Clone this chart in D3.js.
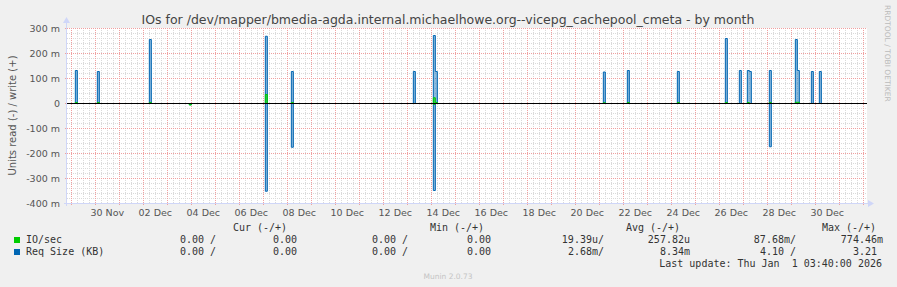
<!DOCTYPE html>
<html>
<head>
<meta charset="utf-8">
<script src="https://cdn.jsdelivr.net/npm/d3@7"></script>
<style>
  html, body { margin: 0; padding: 0; background: #f0f0f0; }
  svg { display: block; font-family: "DejaVu Sans", sans-serif; }
  .mono { font-family: "DejaVu Sans Mono", monospace; font-size: 10px; fill: #333; }
</style>
</head>
<body>
<div id="chart"></div>
<script>
// ---- data (values in milli-units, read side stored positive) ----
const graphTitle = 'IOs for /dev/mapper/bmedia-agda.internal.michaelhowe.org--vicepg_cachepool_cmeta - by month';
const lastUpdate = 'Last update: Thu Jan  1 03:40:00 2026';

const yTicks = [-400, -300, -200, -100, 0, 100, 200, 300];
const yTickLabels = ['-400 m', '-300 m', '-200 m', '-100 m', '0', '100 m', '200 m', '300 m'];

const dayLabelDates = ['2025-11-30', '2025-12-02', '2025-12-04', '2025-12-06', '2025-12-08', '2025-12-10',
  '2025-12-12', '2025-12-14', '2025-12-16', '2025-12-18', '2025-12-20', '2025-12-22', '2025-12-24',
  '2025-12-26', '2025-12-28', '2025-12-30'];
const dayLabels = ['30 Nov', '02 Dec', '04 Dec', '06 Dec', '08 Dec', '10 Dec', '12 Dec', '14 Dec',
  '16 Dec', '18 Dec', '20 Dec', '22 Dec', '24 Dec', '26 Dec', '28 Dec', '30 Dec'];

// 2-hour samples that are non-zero
const sampleTimes = ['2025-11-29 04:00', '2025-11-30 02:00', '2025-12-02 06:00', '2025-12-03 22:00',
  '2025-12-07 02:00', '2025-12-08 04:00', '2025-12-13 06:00', '2025-12-14 02:00', '2025-12-14 04:00',
  '2025-12-21 04:00', '2025-12-22 04:00', '2025-12-24 06:00', '2025-12-26 06:00', '2025-12-26 20:00',
  '2025-12-27 04:00', '2025-12-27 06:00', '2025-12-28 02:00', '2025-12-29 04:00', '2025-12-29 06:00',
  '2025-12-29 20:00', '2025-12-30 04:00'];
const reqWrite = [132, 128, 256, 0, 269, 128, 128, 272, 128, 126, 132, 128, 260, 132, 132, 128, 132, 256, 132, 128, 128];
const reqRead  = [0, 0, 0, 5, 351, 175, 0, 348, 0, 0, 0, 0, 0, 0, 0, 0, 173, 0, 0, 0, 0];
const ioWrite  = [4, 4, 4, 0, 36, 4, 0, 23, 4, 3, 4, 4, 4, 0, 4, 0, 4, 5, 5, 0, 0];
const ioRead   = [0, 0, 0, 6, 0, 0, 0, 3, 0, 0, 0, 0, 0, 0, 0, 0, 0, 0, 0, 0, 0];

const legendHeaders = ['Cur (-/+)', 'Min (-/+)', 'Avg (-/+)', 'Max (-/+)'];
const legendNames = ['IO/sec', 'Req Size (KB)'];
const legendValues = [
  ['  0.00 /', '  0.00 ', '  0.00 /', '  0.00 ', ' 19.39u/', '257.82u', ' 87.68m/', '774.46m'],
  ['  0.00 /', '  0.00 ', '  0.00 /', '  0.00 ', '  2.68m/', '  8.34m', '  4.10 /', '  3.21 ']
];

// ---- layout ----
const W = 897, H = 287;
const plot = { left: 67, right: 867, top: 28, bottom: 203 };
const colors = { io: '#00cc00', req: '#0066b3', axis: '#cfd6f8', grid: '#dadada', mgrid: '#f0a0a0', font: '#555' };

const parseT = d3.utcParse('%Y-%m-%d %H:%M');
const endTime = parseT('2026-01-01 03:40');
const startTime = new Date(endTime.getTime() - 800 * 3600e3);
const STEP = 2 * 3600e3;

const x = d3.scaleUtc().domain([startTime, endTime]).range([plot.left, plot.right]);
const y = d3.scaleLinear().domain([-400, 300]).range([plot.bottom, plot.top]);

const svg = d3.select('#chart').append('svg').attr('width', W).attr('height', H);
svg.append('rect').attr('width', W).attr('height', H).attr('fill', '#f0f0f0');
svg.append('rect')
  .attr('x', plot.left).attr('y', plot.top)
  .attr('width', plot.right - plot.left).attr('height', plot.bottom - plot.top)
  .attr('fill', '#ffffff');

// grid
const grid = svg.append('g').attr('stroke-dasharray', '1,1').attr('stroke-width', 1);
d3.range(-400, 301, 20).filter(v => v % 100 !== 0).forEach(v => {
  grid.append('line').attr('x1', plot.left).attr('x2', plot.right)
    .attr('y1', Math.round(y(v)) + 0.5).attr('y2', Math.round(y(v)) + 0.5).attr('stroke', colors.grid);
});
x.ticks(d3.utcHour.every(6)).filter(t => t.getUTCHours() !== 0).forEach(t => {
  const px = Math.round(x(t)) + 0.5;
  grid.append('line').attr('x1', px).attr('x2', px)
    .attr('y1', plot.top).attr('y2', plot.bottom).attr('stroke', colors.grid);
});
yTicks.forEach(v => {
  grid.append('line').attr('x1', plot.left - 2).attr('x2', plot.right)
    .attr('y1', Math.round(y(v)) + 0.5).attr('y2', Math.round(y(v)) + 0.5).attr('stroke', colors.mgrid);
});
x.ticks(d3.utcDay.every(1)).forEach(t => {
  const px = Math.round(x(t)) + 0.5;
  grid.append('line').attr('x1', px).attr('x2', px)
    .attr('y1', plot.top).attr('y2', plot.bottom + 3).attr('stroke', colors.mgrid);
});

// axes
svg.append('line').attr('x1', plot.left - 0.5).attr('x2', plot.left - 0.5)
  .attr('y1', plot.bottom + 3).attr('y2', plot.top - 6).attr('stroke', colors.axis);
svg.append('path')
  .attr('d', `M${plot.left - 4},${plot.top - 5}L${plot.left - 0.5},${plot.top - 11}L${plot.left + 3},${plot.top - 5}Z`)
  .attr('fill', colors.axis);
svg.append('line').attr('x1', plot.left - 3).attr('x2', plot.right + 2)
  .attr('y1', plot.bottom + 0.5).attr('y2', plot.bottom + 0.5).attr('stroke', colors.axis);
svg.append('path')
  .attr('d', `M${plot.right + 1},${plot.bottom - 3}L${plot.right + 7},${plot.bottom + 0.5}L${plot.right + 1},${plot.bottom + 4}Z`)
  .attr('fill', colors.axis);

// tick labels
svg.append('g').selectAll('text').data(yTicks).join('text')
  .attr('x', plot.left - 7).attr('y', d => y(d) + 3.5)
  .attr('text-anchor', 'end').attr('fill', colors.font).style('font-size', '9.5px')
  .text((d, i) => yTickLabels[i]);

const parseDay = d3.utcParse('%Y-%m-%d');
svg.append('g').selectAll('text').data(dayLabelDates).join('text')
  .attr('x', d => x(d3.utcHour.offset(parseDay(d), 12)))
  .attr('y', 216)
  .attr('text-anchor', 'middle').attr('fill', colors.font).style('font-size', '9.5px')
  .text((d, i) => dayLabels[i]);

// series: keep only the spikes (zero stretches are covered by the black zero rule)
function buildSteps(values, sign) {
  const runs = [];
  let cur = null;
  sampleTimes.forEach((s, i) => {
    if (values[i] === 0) { cur = null; return; }
    const t = parseT(s);
    if (!cur || cur.end.getTime() !== t.getTime()) {
      cur = { pts: [{ t, v: 0 }], end: t };
      runs.push(cur);
    }
    cur.pts.push({ t, v: sign * values[i] });
    cur.end = new Date(t.getTime() + STEP);
  });
  runs.forEach(r => r.pts.push({ t: r.end, v: 0 }));
  return runs.map(r => r.pts);
}

const line = d3.line().x(d => x(d.t)).y(d => y(d.v)).curve(d3.curveStepAfter);
const area = d3.area().x(d => x(d.t)).y0(y(0)).y1(d => y(d.v)).curve(d3.curveStepAfter);

const series = svg.append('g').attr('transform', 'translate(0,0.5)');
function drawSeries(vals, sign, color, opacity) {
  buildSteps(vals, sign).forEach(pts => {
    series.append('path').datum(pts).attr('d', area)
      .attr('fill', color).attr('fill-opacity', opacity);
    series.append('path').datum(pts).attr('d', line)
      .attr('fill', 'none').attr('stroke', color).attr('stroke-width', 1);
  });
}
drawSeries(reqWrite, 1, colors.req, 0.45);
drawSeries(reqRead, -1, colors.req, 0.45);
drawSeries(ioWrite, 1, colors.io, 0.6);
drawSeries(ioRead, -1, colors.io, 0.6);

// zero line
svg.append('line').attr('x1', plot.left).attr('x2', plot.right)
  .attr('y1', y(0) + 0.5).attr('y2', y(0) + 0.5).attr('stroke', '#000').attr('stroke-width', 1);

// titles
svg.append('text').attr('x', 448).attr('y', 24).attr('text-anchor', 'middle')
  .attr('fill', '#444').style('font-size', '12.5px').text(graphTitle);
svg.append('text').attr('transform', `translate(16,${(plot.top + plot.bottom) / 2}) rotate(-90)`)
  .attr('text-anchor', 'middle').attr('fill', colors.font).style('font-size', '10px')
  .text('Units read (-) / write (+)');
svg.append('text').attr('transform', 'translate(885,5) rotate(90)')
  .attr('fill', '#bbb').style('font-size', '7.5px').text('RRDTOOL / TOBI OETIKER');

// legend
const CH = 6.02;
const headerX = [260, 457, 653, 849];
svg.append('g').selectAll('text').data(legendHeaders).join('text')
  .attr('class', 'mono').attr('x', (d, i) => headerX[i]).attr('y', 230.5)
  .attr('text-anchor', 'middle').text(d => d);

const colEnds = [216, 303, 408, 497, 604, 690, 796, 883];
legendNames.forEach((name, r) => {
  const by = 242.5 + r * 12;
  svg.append('rect').attr('x', 14).attr('y', by - 5.5).attr('width', 6).attr('height', 6)
    .attr('fill', r === 0 ? colors.io : colors.req);
  svg.append('text').attr('class', 'mono').attr('x', 26).attr('y', by).text(name);
  legendValues[r].forEach((s, c) => {
    const trail = s.length - s.trimEnd().length;
    svg.append('text').attr('class', 'mono')
      .attr('x', colEnds[c] - trail * CH).attr('y', by)
      .attr('text-anchor', 'end').text(s.trim());
  });
});
svg.append('text').attr('class', 'mono').attr('x', 882).attr('y', 266.5)
  .attr('text-anchor', 'end').style('white-space', 'pre').text(lastUpdate);

svg.append('text').attr('x', 448).attr('y', 279).attr('text-anchor', 'middle')
  .attr('fill', '#c4c4c4').style('font-size', '7.5px').text('Munin 2.0.73');
</script>
</body>
</html>
